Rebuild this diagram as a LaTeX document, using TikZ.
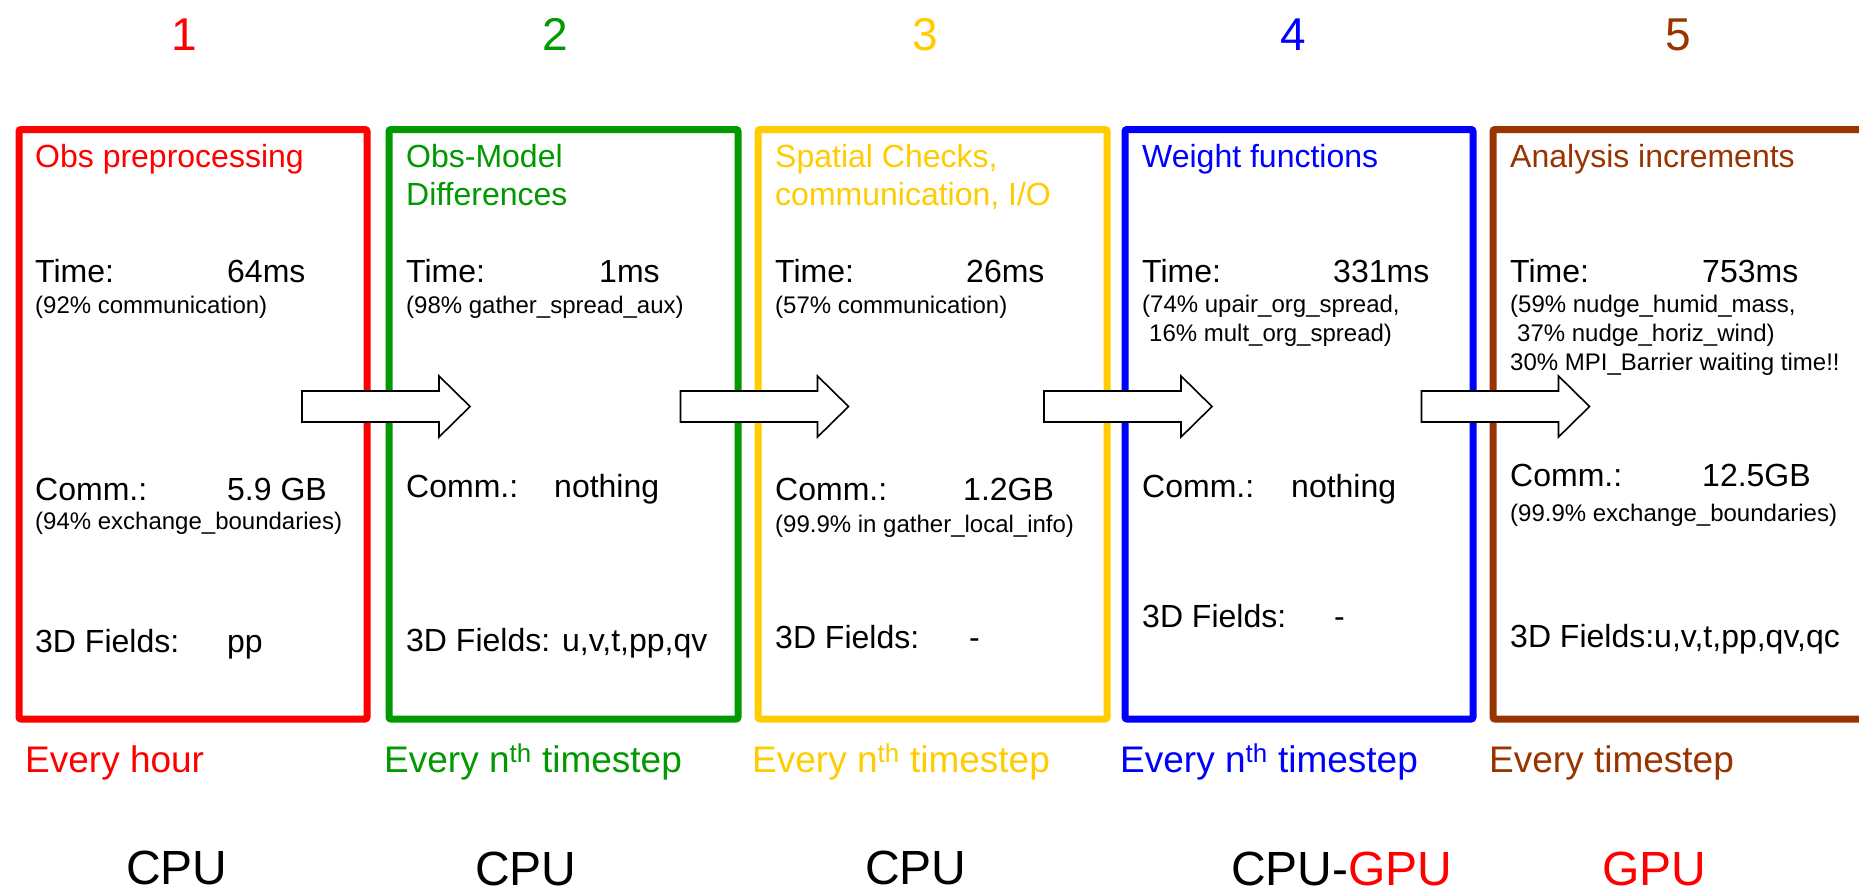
\documentclass[tikz,border=0pt]{standalone}
\usepackage{fontspec}
\setmainfont{Liberation Sans}
\definecolor{cred}{HTML}{FF0000}
\definecolor{cgreen}{HTML}{009900}
\definecolor{cyellow}{HTML}{FFCC00}
\definecolor{cblue}{HTML}{0000FF}
\definecolor{cbrown}{HTML}{993300}
\begin{document}
\begin{tikzpicture}[x=1pt,y=-1pt,
  txt/.style={anchor=base west, inner sep=0pt, font=\fontsize{32}{38}\selectfont},
  small/.style={anchor=base west, inner sep=0pt, font=\fontsize{24}{29}\selectfont},
  freq/.style={anchor=base west, inner sep=0pt, font=\fontsize{37}{44}\selectfont},
  hw/.style={anchor=base west, inner sep=0pt, font=\fontsize{48}{56}\selectfont},
  digit/.style={anchor=base, inner sep=0pt, font=\fontsize{46}{54}\selectfont},
  stagebox/.style={draw, line width=7pt, rounded corners=2pt, inner sep=0pt,
    anchor=north west, minimum height=589.5pt},
  blockarrow/.style={draw=black, fill=white, line width=1.6pt, line join=miter}]
\useasboundingbox (0,0) rectangle (1859,892);
\clip (0,0) rectangle (1859,892);
\fill[white] (0,0) rectangle (1859,892);

% top numbers
\node[digit, text=cred]    (n1) at (184,50) {1};
\node[digit, text=cgreen]  (n2) at (555,50) {2};
\node[digit, text=cyellow] (n3) at (925,50) {3};
\node[digit, text=cblue]   (n4) at (1293,50) {4};
\node[digit, text=cbrown]  (n5) at (1678,50) {5};

% boxes
\node[stagebox, draw=cred,    minimum width=348pt] (b1) at (15.5,126) {};
\node[stagebox, draw=cgreen,  minimum width=349pt] (b2) at (385.5,126) {};
\node[stagebox, draw=cyellow, minimum width=349pt] (b3) at (754.5,126) {};
\node[stagebox, draw=cblue,   minimum width=348pt] (b4) at (1121.5,126) {};
\node[stagebox, draw=cbrown,  minimum width=420pt] (b5) at (1489.5,126) {};

% box 1
\node[txt, text=cred] (t1) at (35,167) {Obs preprocessing};
\node[txt] (t1a) at (35,282) {Time:};
\node[txt] (t1b) at (227,282) {64ms};
\node[small] (t1c) at (35,313) {(92\% communication)};
\node[txt] (t1d) at (35,500) {Comm.:};
\node[txt] (t1e) at (227,500) {5.9 GB};
\node[small] (t1f) at (35,529) {(94\% exchange\_boundaries)};
\node[txt] (t1g) at (35,652) {3D Fields:};
\node[txt] (t1h) at (227,652) {pp};

% box 2
\node[txt, text=cgreen] (t2) at (406,167) {Obs-Model};
\node[txt, text=cgreen] (t2z) at (406,205) {Differences};
\node[txt] (t2a) at (406,282) {Time:};
\node[txt] (t2b) at (599,282) {1ms};
\node[small] (t2c) at (406,313) {(98\% gather\_spread\_aux)};
\node[txt] (t2d) at (406,497) {Comm.:};
\node[txt] (t2e) at (554,497) {nothing};
\node[txt] (t2g) at (406,651) {3D Fields: u,v,t,pp,qv};

% box 3
\node[txt, text=cyellow] (t3) at (775,167) {Spatial Checks,};
\node[txt, text=cyellow] (t3z) at (775,205) {communication, I/O};
\node[txt] (t3a) at (775,282) {Time:};
\node[txt] (t3b) at (966,282) {26ms};
\node[small] (t3c) at (775,313) {(57\% communication)};
\node[txt] (t3d) at (775,500) {Comm.:};
\node[txt] (t3e) at (963,500) {1.2GB};
\node[small] (t3f) at (775,532) {(99.9\% in gather\_local\_info)};
\node[txt] (t3g) at (775,648) {3D Fields:};
\node[txt] (t3h) at (969,648) {-};

% box 4
\node[txt, text=cblue] (t4) at (1142,167) {Weight functions};
\node[txt] (t4a) at (1142,282) {Time:};
\node[txt] (t4b) at (1333,282) {331ms};
\node[small] (t4c) at (1142,312) {(74\% upair\_org\_spread,};
\node[small] (t4c2) at (1142,341) {\hspace*{7pt}16\% mult\_org\_spread)};
\node[txt] (t4d) at (1142,497) {Comm.:};
\node[txt] (t4e) at (1291,497) {nothing};
\node[txt] (t4g) at (1142,627) {3D Fields:};
\node[txt] (t4h) at (1334,627) {-};

% box 5
\node[txt, text=cbrown] (t5) at (1510,167) {Analysis increments};
\node[txt] (t5a) at (1510,282) {Time:};
\node[txt] (t5b) at (1702,282) {753ms};
\node[small] (t5c) at (1510,312) {(59\% nudge\_humid\_mass,};
\node[small] (t5c2) at (1510,341) {\hspace*{7pt}37\% nudge\_horiz\_wind)};
\node[small] (t5c3) at (1510,370) {30\% MPI\_Barrier waiting time!!};
\node[txt] (t5d) at (1510,486) {Comm.:};
\node[txt] (t5e) at (1702,486) {12.5GB};
\node[small] (t5f) at (1510,521) {(99.9\% exchange\_boundaries)};
\node[txt] (t5g) at (1510,647) {3D Fields:u,v,t,pp,qv,qc};

% arrows between stages
\foreach \L/\nm in {302/a1, 680.5/a2, 1044/a3, 1421.5/a4}{
  \draw[blockarrow] (\L,391) -- (\L+137,391) -- (\L+137,376) -- (\L+168,406.5)
     -- (\L+137,437) -- (\L+137,422) -- (\L,422) -- cycle;
}

% frequencies
\node[freq, text=cred]    (f1) at (25,772) {Every hour};
\node[freq, text=cgreen]  (f2) at (384,772) {Every n\textsuperscript{th} timestep};
\node[freq, text=cyellow] (f3) at (752,772) {Every n\textsuperscript{th} timestep};
\node[freq, text=cblue]   (f4) at (1120,772) {Every n\textsuperscript{th} timestep};
\node[freq, text=cbrown]  (f5) at (1489,772) {Every timestep};

% hardware
\node[hw] (h1) at (126,884) {CPU};
\node[hw] (h2) at (475,885) {CPU};
\node[hw] (h3) at (865,884) {CPU};
\node[hw] (h4) at (1231,885) {CPU-\textcolor{cred}{GPU}};
\node[hw, text=cred] (h5) at (1602,885) {GPU};
\end{tikzpicture}
\end{document}
